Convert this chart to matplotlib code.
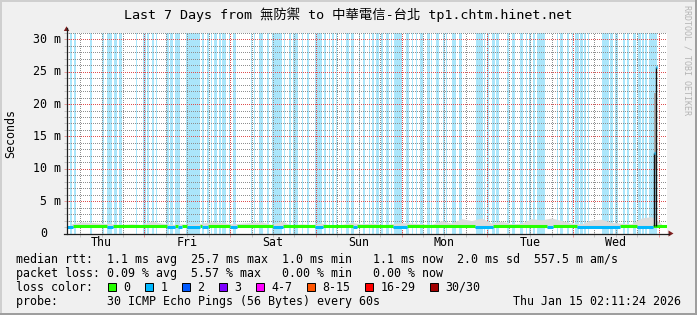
import numpy as np
import matplotlib.pyplot as plt
from matplotlib.patches import Rectangle, Polygon
from matplotlib.transforms import blended_transform_factory

# time axis in hours since Thu Jan 8 00:00; window = last 7 days up to Jan 15 02:11:24
t_start = 2.19
span_h = 168.0
n_steps = 600
step_h = span_h / n_steps

day_names = ['Thu', 'Fri', 'Sat', 'Sun', 'Mon', 'Tue', 'Wed']

# rrd steps (one per pixel) that had 1/30 packet loss -> light blue background
loss_runs = [
    (3, 5), (7, 9), (23, 25), (35, 37), (40, 45), (47, 50), (52, 55), (69, 70),
    (76, 79), (80, 82), (85, 87), (89, 90), (99, 102), (103, 106), (108, 113),
    (119, 133), (135, 137), (140, 142), (144, 146), (147, 150), (152, 154),
    (155, 159), (162, 164), (166, 169), (184, 185), (187, 188), (192, 196),
    (200, 202), (205, 215), (217, 218), (222, 224), (226, 231), (235, 237),
    (240, 242), (248, 255), (257, 259), (262, 263), (265, 267), (269, 270),
    (274, 275), (279, 282), (284, 287), (292, 293), (296, 298), (302, 303),
    (305, 307), (309, 312), (314, 316), (319, 322), (324, 325), (327, 335),
    (339, 342), (345, 346), (349, 350), (353, 356), (360, 363), (364, 365),
    (369, 372), (376, 378), (379, 380), (385, 389), (392, 395), (409, 416),
    (417, 418), (420, 422), (425, 428), (429, 432), (440, 442), (445, 448),
    (453, 456), (459, 460), (462, 464), (466, 468), (470, 479), (490, 491),
    (493, 496), (500, 502), (505, 506), (508, 512), (513, 516), (517, 519),
    (521, 522), (535, 542), (543, 546), (548, 551), (556, 558), (560, 562),
    (566, 569), (571, 574), (575, 577), (578, 580), (582, 590),
]

# median line segments drawn in the "1 lost" colour
blue_runs = [
    (0, 6), (40, 46), (100, 108), (111, 115), (120, 133), (135, 141),
    (163, 170), (206, 216), (248, 256), (286, 290), (326, 340), (408, 426),
    (480, 486), (510, 553), (570, 586),
]
median_ok = 1.15
median_loss1 = 1.0

spike_steps = [587, 589]
spike_ms = [12.4, 25.7]
spike_smoke = (9.8, 21.7)

# smoke (max rtt) per block of 10 steps, ms
smoke_top = [
    1.5, 1.8, 1.7, 1.6, 1.5, 1.4, 1.5, 1.4, 1.9, 1.6,
    1.4, 1.5, 1.4, 1.6, 1.8, 1.7, 1.5, 1.6, 1.7, 1.8,
    1.4, 1.9, 1.3, 1.5, 1.4, 1.6, 1.3, 1.4, 1.7, 1.5,
    1.6, 1.4, 1.5, 1.7, 1.6, 1.5, 1.4, 2.0, 1.6, 2.3,
    2.0, 2.4, 1.6, 1.9, 1.5, 1.6, 2.3, 2.1, 2.4, 2.0,
    1.6, 1.5, 2.1, 2.2, 1.7, 1.6, 1.5, 2.4, 2.6, 1.5,
]

loss_labels = ['0', '1', '2', '3', '4-7', '8-15', '16-29', '30/30']
loss_colors = ['#26ff00', '#00b8ff', '#0059ff', '#7e00ff', '#ff00ff',
               '#ff5500', '#ff0000', '#a10000']

title = 'Last 7 Days from 無防禦 to 中華電信-台北 tp1.chtm.hinet.net'
legend_lines = [
    'median rtt:  1.1 ms avg  25.7 ms max  1.0 ms min   1.1 ms now  2.0 ms sd  557.5 m am/s',
    'packet loss: 0.09 % avg  5.57 % max   0.00 % min   0.00 % now',
    'loss color:',
    'probe:       30 ICMP Echo Pings (56 Bytes) every 60s',
]
now_label = 'Thu Jan 15 02:11:24 2026'

W, H = 697, 315
MONO = 'DejaVu Sans Mono'
GRID = (0.56, 0.56, 0.56, 0.42)
MGRID = (0.87, 0.31, 0.31, 0.5)
VGRID = (0.56, 0.56, 0.56, 0.28)
VMGRID = (0.87, 0.31, 0.31, 0.38)
AXIS = '#1f1f1f'
ARROW = '#7f1f1f'


def fx(px):
    return px / W


def fy(py):
    return 1 - py / H


def t(step):
    return t_start + step * step_h


fig = plt.figure(figsize=(W / 100, H / 100), dpi=100, facecolor='#f0f0f0')
ax = fig.add_axes([fx(66.5), fy(233.5), 600 / W, 201 / H])
ax.set_facecolor('white')
ax.set_xlim(t_start, t_start + span_h)
ax.set_ylim(0, 31.05)

for a, b in loss_runs:
    ax.axvspan(t(a), t(b), color='#abe6fb', lw=0, zorder=1)

# smoke
centers = [t(10 * i + 5) for i in range(len(smoke_top))]
ax.fill_between(centers, median_ok, smoke_top, color='#dcdcdc', lw=0, zorder=3)
ax.fill_between([t(spike_steps[0]), t(spike_steps[1] + 1)], spike_smoke[0], spike_smoke[1],
                color='#a8a8a8', lw=0, zorder=3)

# median line
edges = [0] + [v for r in blue_runs for v in r] + [n_steps]
green_runs = list(zip(edges[0::2], edges[1::2]))
for a, b in green_runs:
    ax.hlines(median_ok, t(a), t(b), colors=loss_colors[0], lw=2.2, zorder=5)
for a, b in blue_runs:
    ax.hlines(median_loss1, t(a), t(b), colors=loss_colors[1], lw=2.2, zorder=5)
for s, v in zip(spike_steps, spike_ms):
    ax.vlines(t(s + 0.5), median_ok, v, colors='#111111', lw=1.0, zorder=6)
    ax.hlines(v, t(s), t(s + 1), colors=loss_colors[1], lw=2.2, zorder=7)

# grid (1px dots)
ax.set_xticks(np.arange(24, 169, 24))
ax.set_xticks(np.arange(6, 170, 6), minor=True)
ax.set_yticks(np.arange(0, 31, 5))
ax.set_yticks(np.arange(1, 32, 1), minor=True)
dots = (0.5, (1, 1))
ax.yaxis.grid(True, which='major', color=MGRID, lw=0.72, ls=dots)
ax.yaxis.grid(True, which='minor', color=GRID, lw=0.72, ls=dots)
ax.xaxis.grid(True, which='major', color=VMGRID, lw=0.72, ls=dots, snap=True)
ax.xaxis.grid(True, which='minor', color=VGRID, lw=0.72, ls=dots, snap=True)
ax.tick_params(which='major', direction='inout', length=4, width=0.72, color=MGRID,
               labelbottom=False, labelleft=False)
ax.tick_params(which='minor', direction='inout', length=4, width=0.72, color=GRID)
ax.spines[['top', 'right', 'left', 'bottom']].set_visible(False)

# axes with arrows
fig.add_artist(plt.Line2D([fx(66.5), fx(66.5)], [fy(234), fy(28)], color=AXIS, lw=0.9))
fig.add_artist(plt.Line2D([fx(64), fx(669)], [fy(233.5), fy(233.5)], color=AXIS, lw=0.9))
fig.add_artist(Polygon([(fx(63.8), fy(31)), (fx(69.3), fy(31)), (fx(66.5), fy(26.3))],
                       closed=True, color=ARROW, lw=0))
fig.add_artist(Polygon([(fx(668.5), fy(230.5)), (fx(668.5), fy(236.5)), (fx(673.5), fy(233.5))],
                       closed=True, color=ARROW, lw=0))

# tick labels
ytr = blended_transform_factory(fig.transFigure, ax.transData)
for v in range(0, 31, 5):
    if v:
        fig.text(fx(60.5), v, f'{v} m', transform=ytr, ha='right', va='center',
                 family=MONO, fontsize=8.4)
    else:
        fig.text(fx(47.5), v, '0', transform=ytr, ha='right', va='center',
                 family=MONO, fontsize=8.4)
xtr = blended_transform_factory(ax.transData, fig.transFigure)
for i, name in enumerate(day_names):
    fig.text(12 + 24 * i, fy(245.7), name, transform=xtr, ha='center', va='baseline',
             family=MONO, fontsize=8.4)

fig.text(0.5, fy(19), title, ha='center', va='baseline', fontsize=9.6,
         family=[MONO, 'Noto Sans CJK TC'])
fig.text(fx(10.5), fy(133), 'Seconds', rotation=90, ha='center', va='center',
         family=MONO, fontsize=8.4)
fig.text(fx(686.5), fy(5), 'RRDTOOL / TOBI OETIKER', rotation=270, ha='center', va='top',
         family=MONO, fontsize=6, color='#b4b4b4')

# legend
baselines = [263.5, 277.2, 290.9, 304.6]
for line, yb in zip(legend_lines, baselines):
    fig.text(fx(16), fy(yb), line, ha='left', va='baseline', family=MONO, fontsize=8.4)
fig.text(fx(681), fy(baselines[3]), now_label, ha='right', va='baseline', family=MONO, fontsize=8.4)

xs = 108.3
for lab, col in zip(loss_labels, loss_colors):
    fig.add_artist(Rectangle((fx(xs), fy(290.5)), 7.5 / W, 8 / H, facecolor=col,
                             edgecolor='black', lw=0.7))
    fig.text(fx(xs + 15), fy(baselines[2]), lab, ha='left', va='baseline', family=MONO, fontsize=8.4)
    xs += 30 + 7 * len(lab)

# 3d frame
fig.add_artist(Rectangle((0, fy(2)), 1, 2 / H, color='#cfcfcf', lw=0))
fig.add_artist(Rectangle((0, 0), 2 / W, 1, color='#cfcfcf', lw=0))
fig.add_artist(Rectangle((0, 0), 1, 2 / H, color='#9e9e9e', lw=0))
fig.add_artist(Rectangle((fx(695), 0), 2 / W, 1, color='#9e9e9e', lw=0))

fig.savefig('out.png', dpi=100, facecolor=fig.get_facecolor())
